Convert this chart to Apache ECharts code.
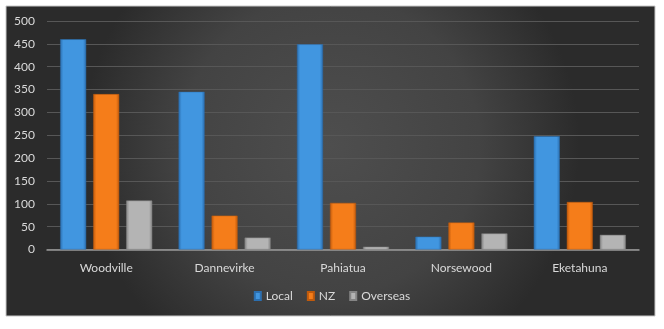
<!DOCTYPE html>
<html>
<head>
<meta charset="utf-8">
<script src="https://cdn.jsdelivr.net/npm/echarts@6/dist/echarts.min.js"></script>
<style>
html,body{margin:0;padding:0;background:#fff;}
#c{width:664px;height:329px;}
</style>
</head>
<body>
<div id="c"></div>
<script>
const categories = ['Woodville', 'Dannevirke', 'Pahiatua', 'Norsewood', 'Eketahuna'];
const localValues = [460, 345, 449, 28, 248];
const nzValues = [340, 74, 102, 59, 104];
const overseasValues = [107, 26, 6, 35, 32];
const yTicks = { min: 0, max: 500, interval: 50 };

const chart = echarts.init(document.getElementById('c'), null, { renderer: 'canvas' });
const font = 'Lato, "Open Sans", sans-serif';
function barColor(mid, dark) {
  return new echarts.graphic.LinearGradient(0, 0, 1, 0, [
    { offset: 0, color: dark },
    { offset: 0.12, color: mid },
    { offset: 0.88, color: mid },
    { offset: 1, color: dark }
  ]);
}
function series(name, data, mid, dark) {
  return {
    name, type: 'bar', data, barWidth: 26, barGap: '27%',
    itemStyle: { color: barColor(mid, dark), borderColor: dark, borderWidth: 0.5 }
  };
}
chart.setOption({
  backgroundColor: '#ffffff',
  animation: false,
  graphic: [{
    type: 'rect', z: -10, silent: true,
    shape: { x: 6, y: 6, width: 649, height: 310 },
    style: {
      fill: new echarts.graphic.RadialGradient(0.5, 0.45, 0.8, [
        { offset: 0, color: '#4e4e4e' },
        { offset: 0.6, color: '#434343' },
        { offset: 1, color: '#2b2b2b' }
      ]),
      stroke: '#c8c8c8', lineWidth: 1
    }
  }],
  grid: { left: 47, right: 25, top: 21, bottom: 79.5, containLabel: false },
  legend: {
    data: [
      { name: 'Local', icon: 'rect' },
      { name: 'NZ', icon: 'rect' },
      { name: 'Overseas', icon: 'rect' }
    ],
    bottom: 22, left: 'center',
    itemWidth: 6, itemHeight: 8, itemGap: 14,
    textStyle: { color: '#d9d9d9', fontSize: 12, fontFamily: font }
  },
  xAxis: {
    type: 'category', data: categories,
    axisLine: { lineStyle: { color: '#9a9a9a', width: 1.5 } },
    axisTick: { show: false },
    axisLabel: { color: '#d9d9d9', fontSize: 12, fontFamily: font, margin: 13 }
  },
  yAxis: {
    type: 'value', min: yTicks.min, max: yTicks.max, interval: yTicks.interval,
    axisLine: { show: false }, axisTick: { show: false },
    axisLabel: { color: '#d9d9d9', fontSize: 12, fontFamily: font, margin: 12 },
    splitLine: { lineStyle: { color: '#575757', width: 1 } }
  },
  series: [
    series('Local', localValues, '#4196e0', '#2b6fb0'),
    series('NZ', nzValues, '#f57d1a', '#c05a0c'),
    series('Overseas', overseasValues, '#b4b4b4', '#858585')
  ],
  color: ['#4196e0', '#f57d1a', '#b4b4b4']
});
</script>
</body>
</html>
